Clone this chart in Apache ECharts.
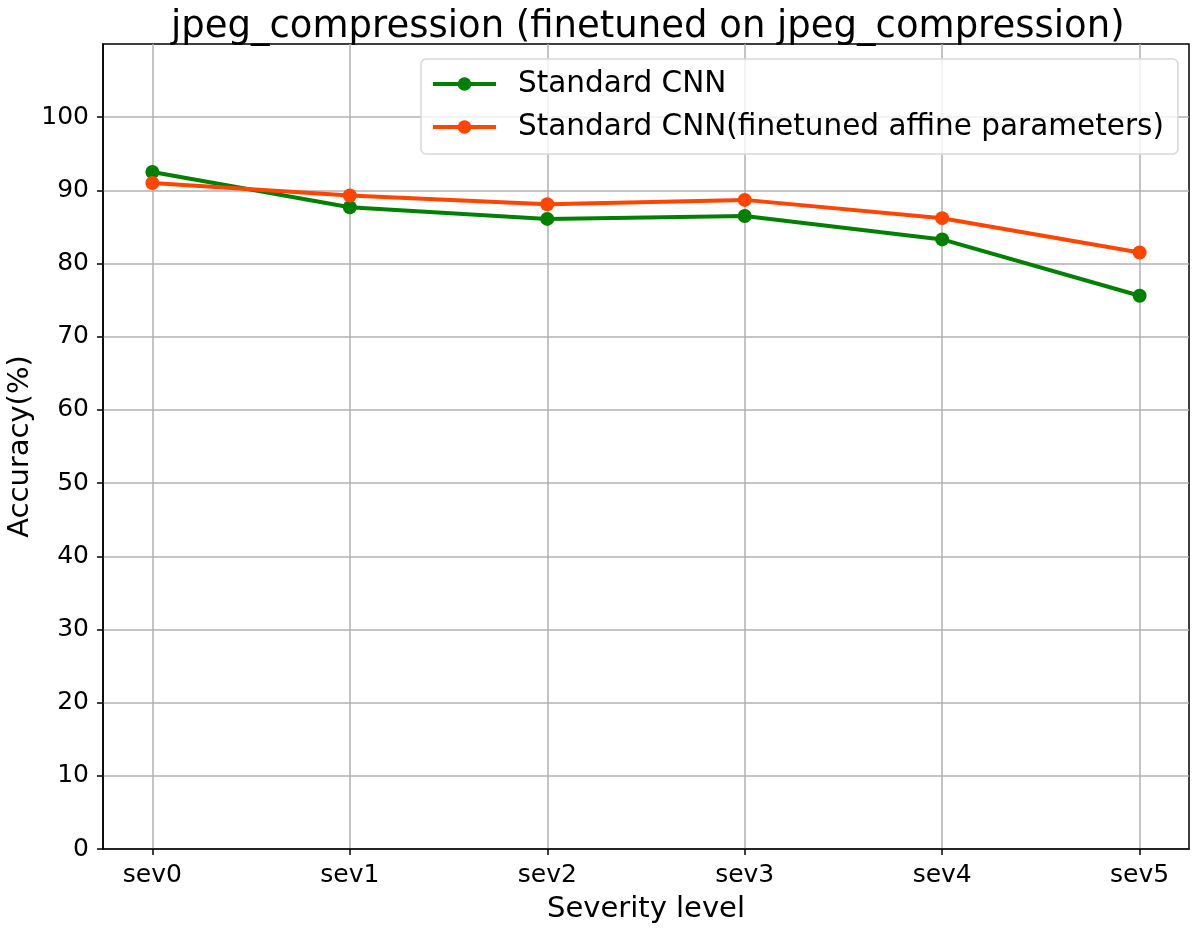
<!DOCTYPE html>
<html>
<head>
<meta charset="utf-8">
<script src="https://cdn.jsdelivr.net/npm/echarts@6/dist/echarts.min.js"></script>
<style>
html,body{margin:0;padding:0;background:#fff;}
#chart{width:1195px;height:929px;}
</style>
</head>
<body>
<div id="chart"></div>
<script>
const categories = ['sev0', 'sev1', 'sev2', 'sev3', 'sev4', 'sev5'];
const standardCNN = [92.5, 87.7, 86.1, 86.5, 83.3, 75.6];
const finetunedAffine = [91.0, 89.3, 88.1, 88.7, 86.2, 81.5];
const yTicks = [0, 10, 20, 30, 40, 50, 60, 70, 80, 90, 100];
const seriesNames = ['Standard CNN', 'Standard CNN(finetuned affine parameters)'];

const xIdx = categories.map((c, i) => i);
const font = 'DejaVu Sans';
const chart = echarts.init(document.getElementById('chart'), null, {renderer: 'canvas'});

function mkSeries(name, vals, color) {
  return {
    name: name,
    type: 'line',
    data: vals.map((v, i) => [i, v]),
    symbol: 'circle',
    symbolSize: 14,
    lineStyle: {color: color, width: 4},
    itemStyle: {color: color},
    animation: false
  };
}

chart.setOption({
  animation: false,
  backgroundColor: '#fff',
  title: {
    text: 'jpeg_compression (finetuned on jpeg_compression)',
    left: 166,
    top: 4,
    textStyle: {fontFamily: font, fontSize: 37, fontWeight: 'normal', color: '#000'}
  },
  grid: {
    left: 103, right: 6, top: 44, bottom: 80,
    outerBoundsMode: 'none',
    containLabel: false,
    show: true, borderColor: '#000', borderWidth: 1.5, backgroundColor: 'transparent'
  },
  legend: {
    data: seriesNames,
    orient: 'vertical',
    left: 421,
    top: 59,
    itemWidth: 63,
    itemHeight: 17,
    itemGap: 11,
    padding: [9, 14, 11, 10],
    backgroundColor: 'rgba(255,255,255,0.8)',
    borderColor: '#d8d8d8',
    borderWidth: 1.5,
    borderRadius: 5,
    lineStyle: {width: 4},
    textStyle: {fontFamily: font, fontSize: 29.5, color: '#000', padding: [0, 0, 0, 17], lineHeight: 32}
  },
  xAxis: {
    type: 'value',
    min: -0.25,
    max: 5.25,
    name: 'Severity level',
    nameLocation: 'middle',
    nameGap: 46,
    nameTextStyle: {fontFamily: font, fontSize: 29, color: '#000'},
    axisLine: {show: true, onZero: false, lineStyle: {color: '#000', width: 1.5}},
    axisTick: {show: true, customValues: xIdx, length: 6, lineStyle: {color: '#000', width: 1.5}},
    axisLabel: {
      customValues: xIdx,
      fontFamily: font, fontSize: 25, color: '#000', margin: 14,
      formatter: v => categories[Math.round(v)]
    },
    splitLine: {show: true, lineStyle: {color: '#b0b0b0', width: 1.5}}
  },
  yAxis: {
    type: 'value',
    min: 0,
    max: 110,
    interval: 10,
    name: 'Accuracy(%)',
    nameLocation: 'middle',
    nameGap: 68,
    nameMoveOverlap: false,
    nameTextStyle: {fontFamily: font, fontSize: 29, color: '#000'},
    axisLine: {show: true, onZero: false, lineStyle: {color: '#000', width: 1.5}},
    axisTick: {show: true, customValues: yTicks, length: 6, lineStyle: {color: '#000', width: 1.5}},
    axisLabel: {customValues: yTicks, fontFamily: font, fontSize: 25, color: '#000', margin: 14},
    splitLine: {show: true, lineStyle: {color: '#b0b0b0', width: 1.5}}
  },
  series: [
    mkSeries(seriesNames[0], standardCNN, '#008000'),
    mkSeries(seriesNames[1], finetunedAffine, '#ff4500')
  ]
});
</script>
</body>
</html>
